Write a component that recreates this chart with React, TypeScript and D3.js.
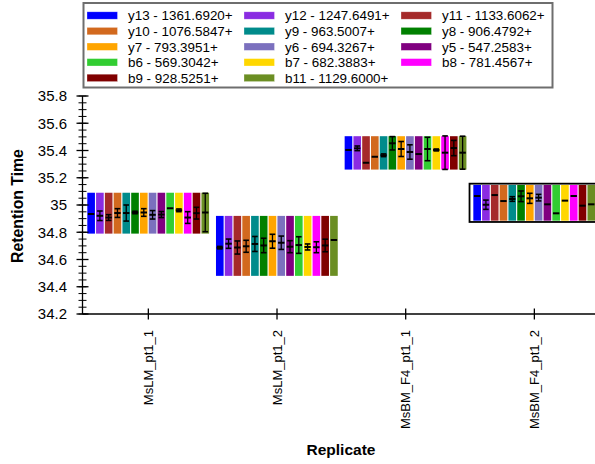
import React from "react";
import * as d3 from "d3";

const replicates = ["MsLM_pt1_1", "MsLM_pt1_2", "MsBM_F4_pt1_1", "MsBM_F4_pt1_2"];
const transitions = [
  "y13 - 1361.6920+", "y12 - 1247.6491+", "y11 - 1133.6062+",
  "y10 - 1076.5847+", "y9 - 963.5007+", "y8 - 906.4792+",
  "y7 - 793.3951+", "y6 - 694.3267+", "y5 - 547.2583+",
  "b6 - 569.3042+", "b7 - 682.3883+", "b8 - 781.4567+",
  "b9 - 928.5251+", "b11 - 1129.6000+",
];
const colors = [
  "#0000FF", "#8A2BE2", "#A52A2A", "#D2691E", "#008B8B", "#008000", "#FFA500",
  "#7B70BE", "#800080", "#32CD32", "#FFD700", "#FF00FF", "#800000", "#6B8E23",
];
const peakStart = [34.79, 34.48, 35.26, 34.885];
const peakEnd = [35.09, 34.92, 35.505, 35.147];
const means = [
  [34.934, 34.921, 34.908, 34.941, 34.941, 34.945, 34.945, 34.928, 34.930, 34.976, 34.961, 34.908, 34.940, 34.945],
  [34.687, 34.716, 34.688, 34.697, 34.714, 34.703, 34.734, 34.723, 34.694, 34.706, 34.692, 34.690, 34.703, 34.743],
  [35.404, 35.416, 35.310, 35.354, 35.365, 35.453, 35.411, 35.389, 35.374, 35.411, 35.404, 35.384, 35.418, 35.384],
  [35.066, 35.002, 35.073, 35.029, 35.044, 35.064, 35.049, 35.054, 35.005, 34.939, 35.032, 35.066, 34.995, 35.005],
];
const sds = [
  [0, 0.035, 0.021, 0.032, 0.059, 0.009, 0.028, 0.031, 0.022, 0, 0.010, 0.043, 0.043, 0.141],
  [0.009, 0.034, 0.048, 0.044, 0.055, 0.053, 0.051, 0.049, 0.044, 0.061, 0.022, 0.040, 0.046, 0],
  [0, 0.017, 0, 0, 0.010, 0.049, 0.055, 0.053, 0, 0.086, 0.007, 0.123, 0.056, 0.121],
  [0, 0.034, 0, 0, 0.017, 0.039, 0.037, 0.024, 0, 0, 0, 0, 0, 0],
];
const yTicks = [34.2, 34.4, 34.6, 34.8, 35, 35.2, 35.4, 35.6, 35.8];
const selectedReplicate = 3;

const W = 595;
const H = 464;
const FONT = "'Liberation Sans', Arial, sans-serif";

export default function App() {
  const x = d3.scaleBand<string>().domain(replicates).range([84, 598.7]).padding(0);
  const y = d3.scaleLinear().domain([34.2, 35.8]).range([314, 96]);
  const inner = d3
    .scaleBand<string>()
    .domain(transitions)
    .range([3.3, x.bandwidth() - 3.6])
    .paddingInner(0.13)
    .paddingOuter(0);
  const minor = d3.range(34.2, 35.8001, 0.05).map((v) => +v.toFixed(2));
  const axisX = 82.5;
  const axisY = 314;

  return (
    <svg width={W} height={H} style={{ position: "absolute", left: 0, top: 0, background: "#fff" }}>
      {/* legend */}
      <rect x={83.5} y={3} width={469} height={84.5} fill="#fff" stroke="#6e6e6e" strokeWidth={2} />
      {transitions.map((t, i) => {
        const col = i % 3;
        const row = Math.floor(i / 3);
        const lx = 87 + col * 157;
        const ly = 15.5 + row * 15.6;
        return (
          <g key={t}>
            <rect x={lx} y={ly - 3.7} width={30.5} height={7.4} fill={colors[i]} stroke="#ffffff" strokeOpacity={0.5} strokeWidth={0.6} />
            <text x={lx + 41} y={ly} dy="0.36em" fontFamily={FONT} fontSize={13.4} fill="#000">
              {t}
            </text>
          </g>
        );
      })}

      {/* bars */}
      {replicates.map((r, ri) => {
        const bx = x(r)!;
        return (
          <g key={r}>
            {ri === selectedReplicate && (
              <rect
                x={bx - 0.5}
                y={y(peakEnd[ri]) - 1.3}
                width={x.bandwidth() + 1}
                height={y(peakStart[ri]) - y(peakEnd[ri]) + 2.6}
                fill="none"
                stroke="#000"
                strokeWidth={1.8}
              />
            )}
            {transitions.map((t, ti) => {
              const x0 = bx + inner(t)!;
              const w = inner.bandwidth();
              const cx = x0 + w / 2;
              const m = means[ri][ti];
              const s = sds[ri][ti];
              return (
                <g key={t}>
                  <rect
                    x={x0}
                    y={y(peakEnd[ri])}
                    width={w}
                    height={y(peakStart[ri]) - y(peakEnd[ri])}
                    fill={colors[ti]}
                  />
                  {s > 0.004 && (
                    <g stroke="#000" strokeWidth={1.3}>
                      <line x1={cx} x2={cx} y1={y(m + s)} y2={y(m - s)} />
                      <line x1={cx - 2.8} x2={cx + 2.8} y1={y(m + s)} y2={y(m + s)} strokeWidth={1.6} />
                      <line x1={cx - 2.8} x2={cx + 2.8} y1={y(m - s)} y2={y(m - s)} strokeWidth={1.6} />
                    </g>
                  )}
                  <line x1={cx - 3.2} x2={cx + 3.2} y1={y(m)} y2={y(m)} stroke="#000" strokeWidth={2} />
                </g>
              );
            })}
          </g>
        );
      })}

      {/* y axis */}
      <line x1={axisX} x2={axisX} y1={y(35.8)} y2={axisY} stroke="#000" strokeWidth={1.3} />
      {minor.map((v) => (
        <line key={"m" + v} x1={axisX - 4} x2={axisX + 4} y1={y(v)} y2={y(v)} stroke="#000" strokeWidth={1} />
      ))}
      {yTicks.map((v) => (
        <g key={v}>
          <line x1={axisX - 6} x2={axisX + 6} y1={y(v)} y2={y(v)} stroke="#000" strokeWidth={1.3} />
          <text x={67} y={y(v)} dy="0.36em" textAnchor="end" fontFamily={FONT} fontSize={15} fill="#000">
            {d3.format("")(v)}
          </text>
        </g>
      ))}

      {/* x axis */}
      <line x1={axisX} x2={W} y1={axisY} y2={axisY} stroke="#000" strokeWidth={1.3} />
      {replicates.map((r) => {
        const cx = x(r)! + x.bandwidth() / 2;
        return (
          <g key={r}>
            <line x1={cx} x2={cx} y1={axisY - 5.5} y2={axisY + 5.5} stroke="#000" strokeWidth={1.3} />
            <text
              transform={`translate(${cx},330) rotate(-90)`}
              textAnchor="end"
              dy="0.36em"
              fontFamily={FONT}
              fontSize={13}
              fill="#000"
            >
              {r}
            </text>
          </g>
        );
      })}

      {/* axis titles */}
      <text
        transform={`translate(23,206) rotate(-90)`}
        textAnchor="middle"
        fontFamily={FONT}
        fontSize={15.8}
        fontWeight="bold"
        fill="#000"
      >
        Retention Time
      </text>
      <text x={341} y={455} textAnchor="middle" fontFamily={FONT} fontSize={15.5} fontWeight="bold" fill="#000">
        Replicate
      </text>
    </svg>
  );
}
